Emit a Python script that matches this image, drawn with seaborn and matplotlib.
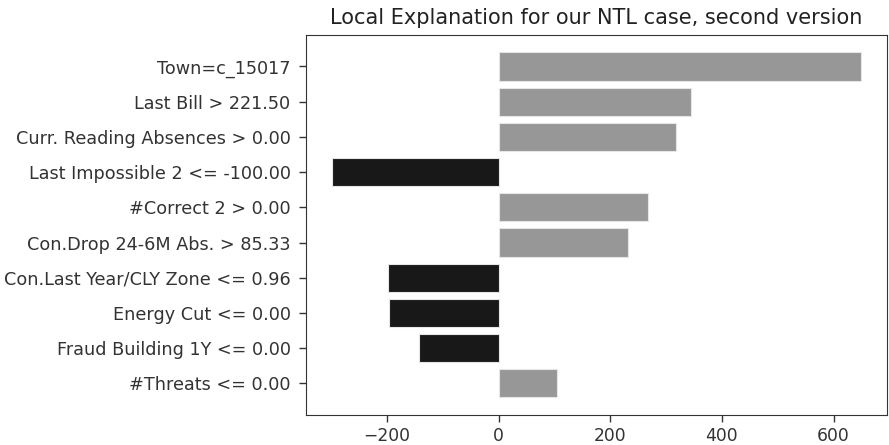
import pandas as pd
import numpy as np
import matplotlib
matplotlib.use('Agg')
import matplotlib.pyplot as plt
import seaborn as sns

features = ['Town=c_15017', 'Last Bill > 221.50', 'Curr. Reading Absences > 0.00',
            'Last Impossible 2 <= -100.00', '#Correct 2 > 0.00', 'Con.Drop 24-6M Abs. > 85.33',
            'Con.Last Year/CLY Zone <= 0.96', 'Energy Cut <= 0.00', 'Fraud Building 1Y <= 0.00',
            '#Threats <= 0.00']
weights = [649, 345, 318, -298, 268, 232, -198, -196, -143, 105]

ptitle = 'Local Explanation for our NTL case, second version'

df = pd.DataFrame({'feature': features, 'weight': weights})
df['sign'] = np.where(df.weight > 0, 'pos', 'neg')

sns.set_style('ticks')
plt.rcParams['font.family'] = ['DejaVu Sans']

fig, ax = plt.subplots(figsize=(8.89, 4.45), dpi=100)
fig.subplots_adjust(left=0.344, right=0.998, top=0.921, bottom=0.068)

sns.barplot(data=df, y='feature', x='weight', hue='sign', orient='h',
            palette={'pos': '#979797', 'neg': '#181818'}, dodge=False,
            width=0.8, edgecolor='#e6e6e6', linewidth=0.8, legend=False, ax=ax)

ax.set_ylim(9.89, -0.89)
ax.set_xlim(-345, 696)
ax.set_xticks([-200, 0, 200, 400, 600])
ax.set_xticklabels(['\u2212200', '0', '200', '400', '600'])
ax.tick_params(axis='both', colors='#333333', length=5, width=1)
ax.tick_params(axis='x', labelsize=12.3)
ax.tick_params(axis='y', labelsize=12.7, pad=6)
for s in ax.spines.values():
    s.set_color('#333333')
    s.set_visible(True)
ax.set_xlabel('')
ax.set_ylabel('')
ax.set_title(ptitle, fontsize=15, color='#222222', pad=8)

plt.savefig('out.png', dpi=100)
